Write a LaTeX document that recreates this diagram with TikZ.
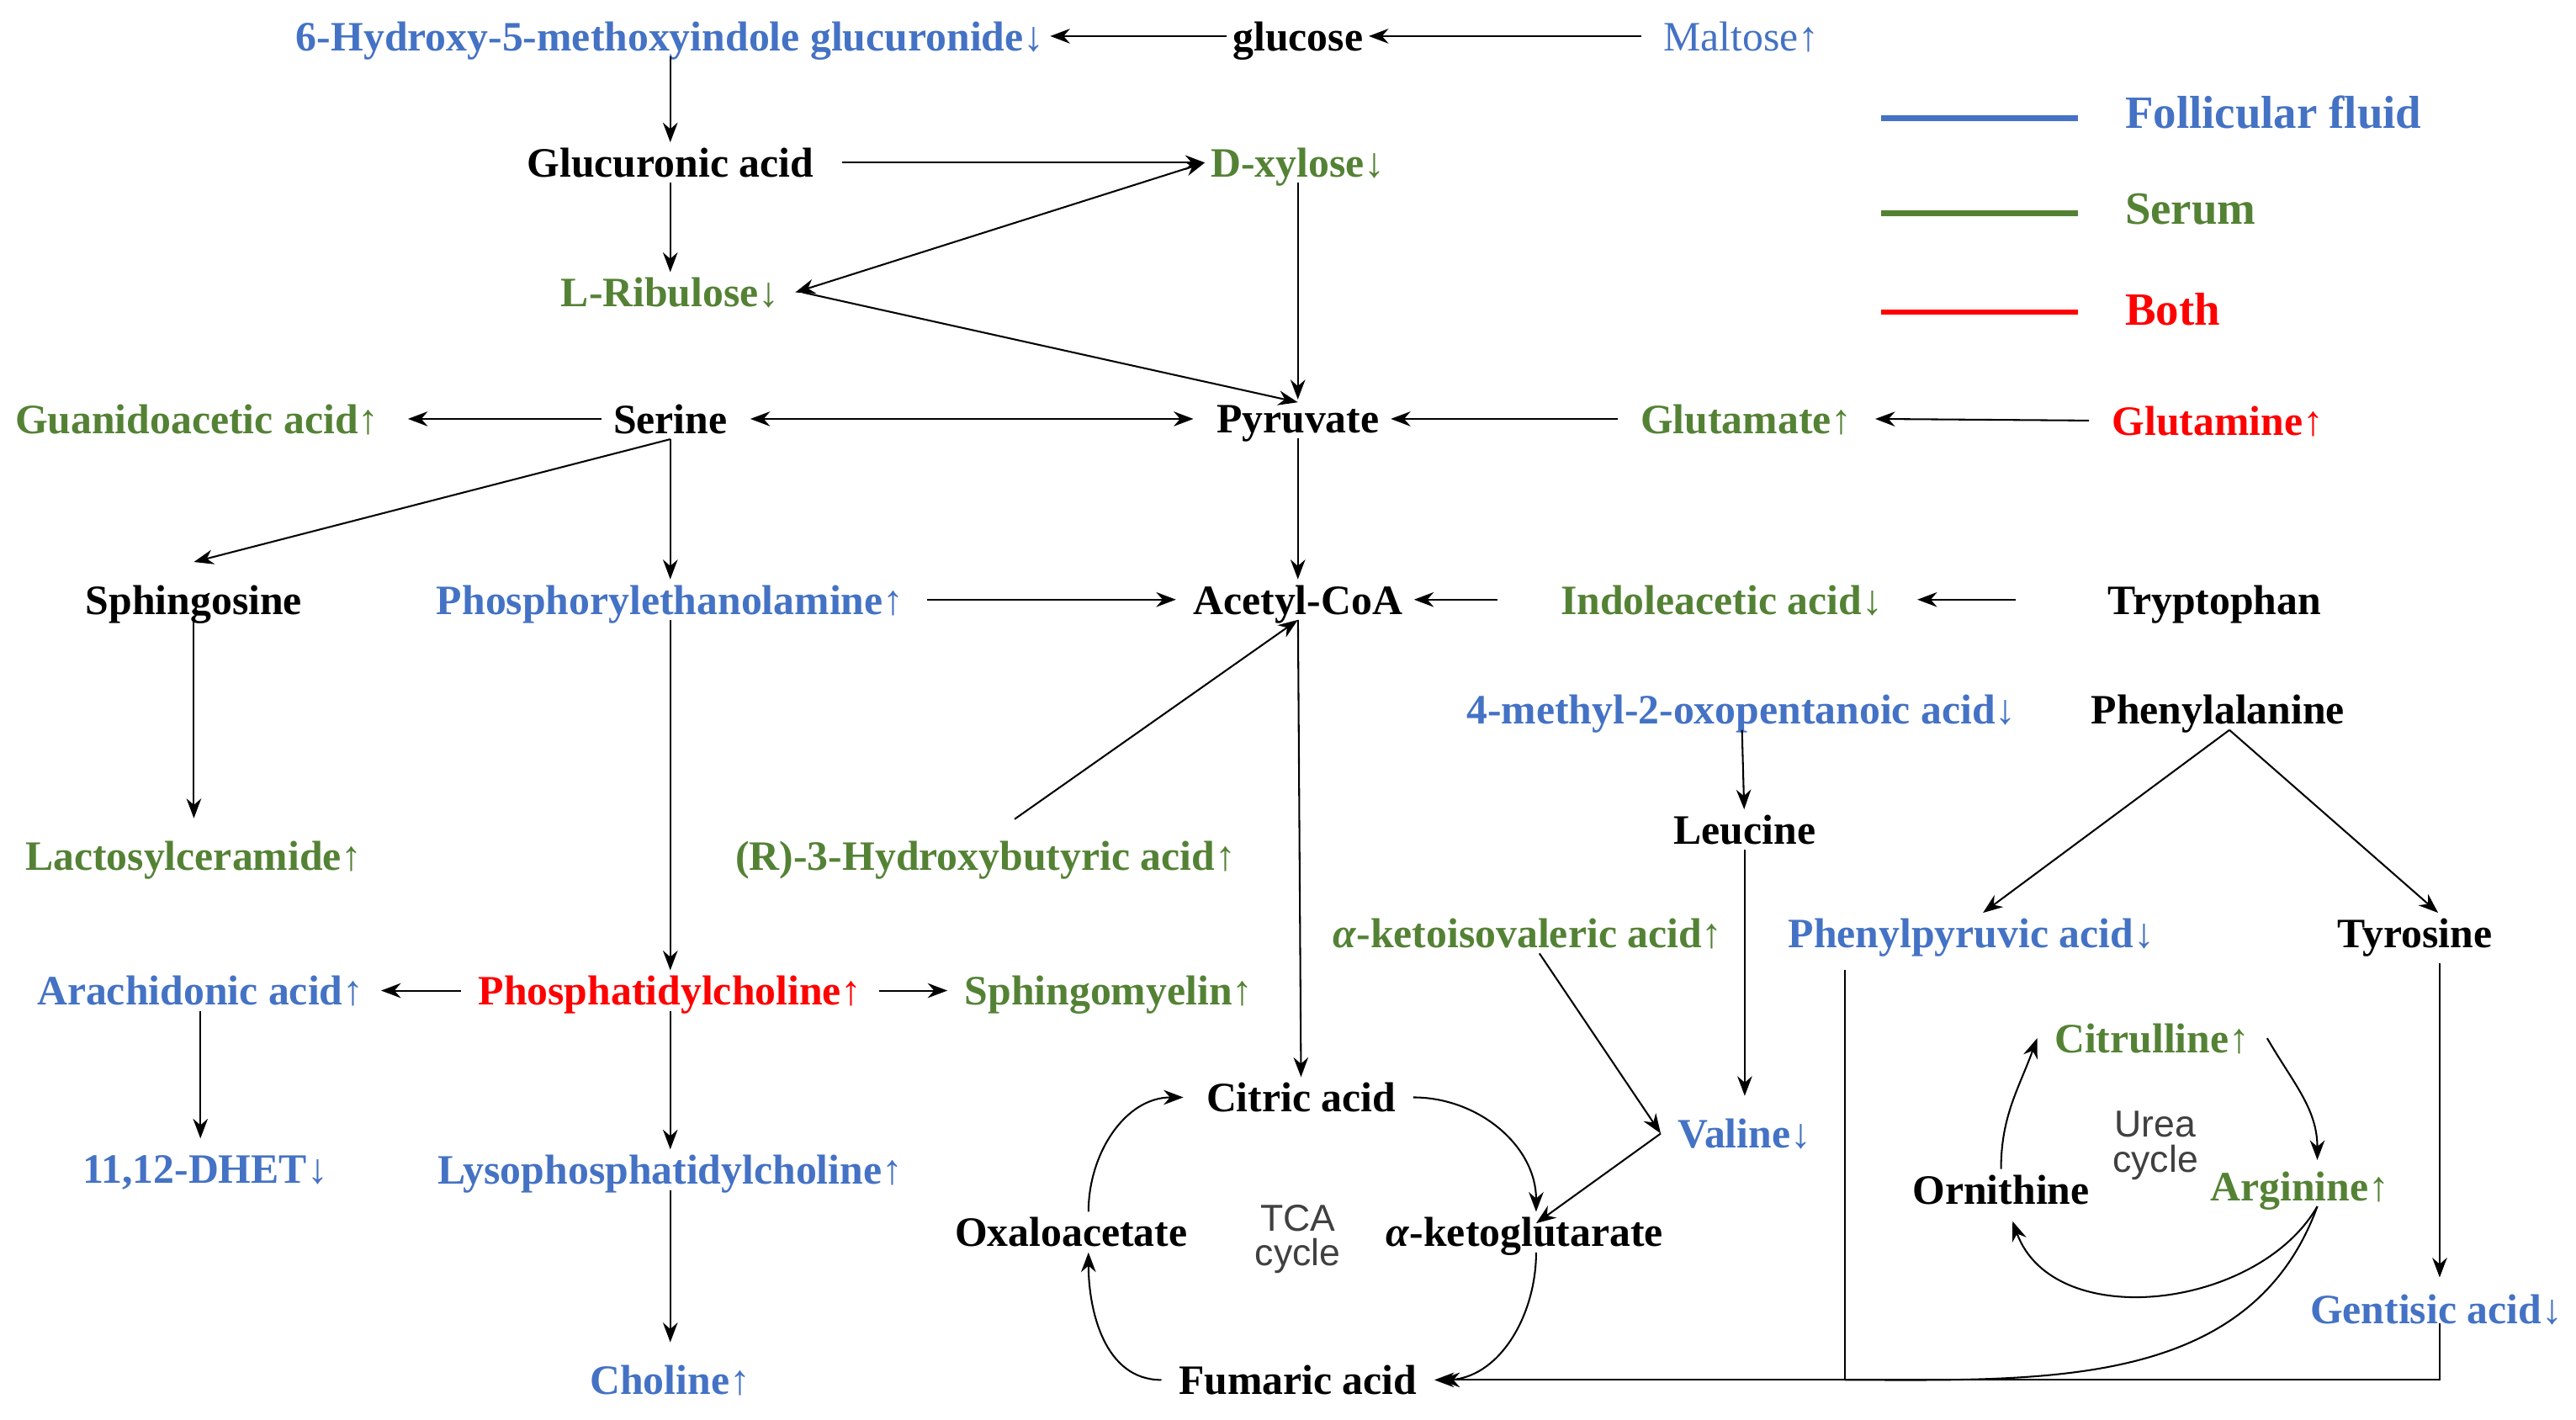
\documentclass[tikz,border=0pt]{standalone}
\usepackage{fontspec}
\setmainfont{Liberation Serif}
\newfontfamily\cyclefont{Liberation Sans}
\usetikzlibrary{arrows.meta}
\definecolor{ffblue}{HTML}{4472C4}
\definecolor{serumgreen}{HTML}{548235}
\definecolor{bothred}{HTML}{FF0000}
\begin{document}
\begin{tikzpicture}[x=0.02cm, y=-0.02cm, >={Stealth[length=2.4mm,width=1.8mm]},
    every node/.style={inner sep=0.6mm, font=\fontsize{14.5}{16}\selectfont\bfseries, text depth=0},
    ff/.style={text=ffblue}, se/.style={text=serumgreen}, bo/.style={text=bothred},
    cyc/.style={font=\fontsize{13}{15}\selectfont\cyclefont, text=black!75, align=center},
    every path/.style={line width=0.6pt}]
        \useasboundingbox (0,0) rectangle (1568,864);
        \node[ff] (hmg) at (408,22) {6-Hydroxy-5-methoxyindole glucuronide↓};
        \node (glc) at (790,22) {glucose};
        \node[ff, font=\fontsize{14.5}{16}\selectfont] (mal) at (1060,22) {Maltose↑};
        \node (gla) at (408,99) {Glucuronic acid};
        \node[se] (xyl) at (790,99) {D-xylose↓};
        \node[se] (rib) at (408,178) {L-Ribulose↓};
        \node[se] (gua) at (120,255) {Guanidoacetic acid↑};
        \node (ser) at (408,255) {Serine};
        \node (pyr) at (790,255) {Pyruvate};
        \node[se] (glu) at (1063,255) {Glutamate↑};
        \node[bo] (gln) at (1350,256) {Glutamine↑};
        \node (sph) at (118,365) {Sphingosine};
        \node[ff] (pea) at (408,365) {Phosphorylethanolamine↑};
        \node (aco) at (790,365) {Acetyl-CoA};
        \node[se] (iaa) at (1048,365) {Indoleacetic acid↓};
        \node (trp) at (1348,365) {Tryptophan};
        \node[ff] (mop) at (1060,432) {4-methyl-2-oxopentanoic acid↓};
        \node (phe) at (1350,432) {Phenylalanine};
        \node[se] (lac) at (118,521) {Lactosylceramide↑};
        \node[se] (hba) at (600,521) {(R)-3-Hydroxybutyric acid↑};
        \node (leu) at (1062,505) {Leucine};
        \node[se] (kiv) at (930,568) {\textit{α}-ketoisovaleric acid↑};
        \node[ff] (ppa) at (1200,568) {Phenylpyruvic acid↓};
        \node (tyr) at (1470,568) {Tyrosine};
        \node[ff] (ara) at (122,603) {Arachidonic acid↑};
        \node[bo] (pc) at (408,603) {Phosphatidylcholine↑};
        \node[se] (sm) at (675,603) {Sphingomyelin↑};
        \node[se] (cit) at (1310,632) {Citrulline↑};
        \node (cia) at (792,668) {Citric acid};
        \node[ff] (val) at (1062,690) {Valine↓};
        \node[cyc] (urea) at (1312,695) {Urea\\[-1mm]cycle};
        \node[ff] (dhet) at (125,712) {11,12-DHET↓};
        \node[ff] (lpc) at (408,712) {Lysophosphatidylcholine↑};
        \node (orn) at (1218,724) {Ornithine};
        \node[se] (arg) at (1400,722) {Arginine↑};
        \node (oaa) at (652,750) {Oxaloacetate};
        \node[cyc] (tca) at (790,752) {TCA\\[-1mm]cycle};
        \node (akg) at (928,750) {\textit{α}-ketoglutarate};
        \node[ff] (gen) at (1483,797) {Gentisic acid↓};
        \node[ff] (cho) at (408,840) {Choline↑};
        \node (fum) at (790,840) {Fumaric acid};
        \coordinate (jn) at (1123,840);
        \coordinate (gx) at (1485,840);
        % legend
        \coordinate (l1) at (1145,72); \coordinate (l1e) at (1265,72);
        \coordinate (l2) at (1145,130); \coordinate (l2e) at (1265,130);
        \coordinate (l3) at (1145,190); \coordinate (l3e) at (1265,190);
        \draw[ffblue, line width=2pt] (l1) -- (l1e);
        \draw[serumgreen, line width=2pt] (l2) -- (l2e);
        \draw[bothred, line width=2pt] (l3) -- (l3e);
        \node[ff, anchor=west, font=\fontsize{16}{18}\selectfont\bfseries] (lff) at (1290,68) {Follicular fluid};
        \node[se, anchor=west, font=\fontsize{16}{18}\selectfont\bfseries] (lse) at (1290,127) {Serum};
        \node[bo, anchor=west, font=\fontsize{16}{18}\selectfont\bfseries] (lbo) at (1290,188) {Both};

        \draw[->] (glc) -- (hmg);
        \draw[->] (mal.west) ++(-10,0) -- (glc);
        \draw[->] (hmg) -- (gla);
        \draw[->] ([xshift=8pt]gla.east) -- (xyl.west);
        \draw[->] (gla) -- (rib);
        \draw[<->] (rib.east) ++(6,0) -- (xyl.west);
        \draw[->] ([xshift=6pt]rib.east) -- ([yshift=-1pt]pyr.north);
        \draw[->] (xyl) -- (pyr.north);

        \draw[->] ([xshift=-2pt]ser.west) -- ([xshift=8pt]gua.east);
        \draw[<->] ([xshift=6pt]ser.east) -- ([xshift=-6pt]pyr.west);
        \draw[->] ([xshift=-6pt]glu.west) -- ([xshift=2pt]pyr.east);
        \draw[->] ([xshift=-6pt]gln.west) -- ([xshift=6pt]glu.east);
        \draw[->] (pyr) -- (aco);
        \draw[->] (ser.south) -- ([yshift=6pt]sph.north);
        \draw[->] (ser) -- (pea);
        \draw[->] ([xshift=6pt]pea.east) -- ([xshift=-4pt]aco.west);
        \draw[->] ([xshift=-20pt]iaa.west) -- ([xshift=2pt]aco.east);
        \draw[->] ([xshift=-30pt]trp.west) -- ([xshift=10pt]iaa.east);
        \draw[->] ([xshift=10pt]hba.north) ++(0,-10) -- (aco.south);
        \draw[->] (aco) -- (cia);

        \draw[->] (sph.south) -- ([yshift=6pt]sph.south |- lac.north);
        \draw[->] (pea) -- (pc);
        \draw[->] ([xshift=-4pt]pc.west) -- ([xshift=4pt]ara.east);
        \draw[->] ([xshift=4pt]pc.east) -- ([xshift=-4pt]sm.west);
        \draw[->] (ara.south) -- ([yshift=4pt]ara.south |- dhet.north);
        \draw[->] (pc) -- (lpc);
        \draw[->] (lpc) -- ([yshift=6pt]cho.north);

        \draw[->] (mop) -- (leu);
        \draw[->] (leu) -- ([yshift=6pt]val.north);
        \draw[->] ([xshift=4pt]kiv.south) -- ([xshift=-4pt]val.west);
        \draw[->] ([xshift=-4pt]val.west) -- ([xshift=4pt,yshift=-4pt]akg.north);
        \draw[->] ([xshift=4pt]phe.south) -- ([xshift=4pt]ppa.north);
        \draw[->] ([xshift=4pt]phe.south) -- ([xshift=8pt]tyr.north);
        \draw[->] (tyr.south -| gx) ++(0,6) -- ([yshift=4pt]gen.north -| gx);

        % TCA cycle
        \draw[->] ([xshift=6pt]oaa.north) to[out=90, in=180] ([xshift=-6pt]cia.west);
        \draw[->] ([xshift=4pt]cia.east) to[out=0, in=90] ([xshift=4pt]akg.north);
        \draw[->] ([xshift=4pt]akg.south) to[out=-90, in=0] ([xshift=4pt]fum.east);
        \draw[->] ([xshift=-4pt]fum.west) to[out=180, in=-90] ([xshift=6pt]oaa.south);
        % urea cycle
        \draw[->] (orn.north) to[out=90, in=-110] ([xshift=-4pt]cit.west);
        \draw[->] ([xshift=4pt]cit.east) to[out=-60, in=90] ([xshift=6pt,yshift=2pt]arg.north);
        \draw[->] ([xshift=6pt]arg.south) to[out=-120, in=-70] ([yshift=-4pt,xshift=4pt]orn.south);
        % into fumaric acid
        \draw ([xshift=6pt]arg.south) to[out=-110, in=0] (jn);
        \draw (gen.south -| gx) ++(0,-4) -- (gx) -- (jn);
        \draw (ppa.south -| jn) ++(0,10) -- (jn);
        \draw[->] (jn) -- ([xshift=6pt]fum.east);
    \end{tikzpicture}
\end{document}
